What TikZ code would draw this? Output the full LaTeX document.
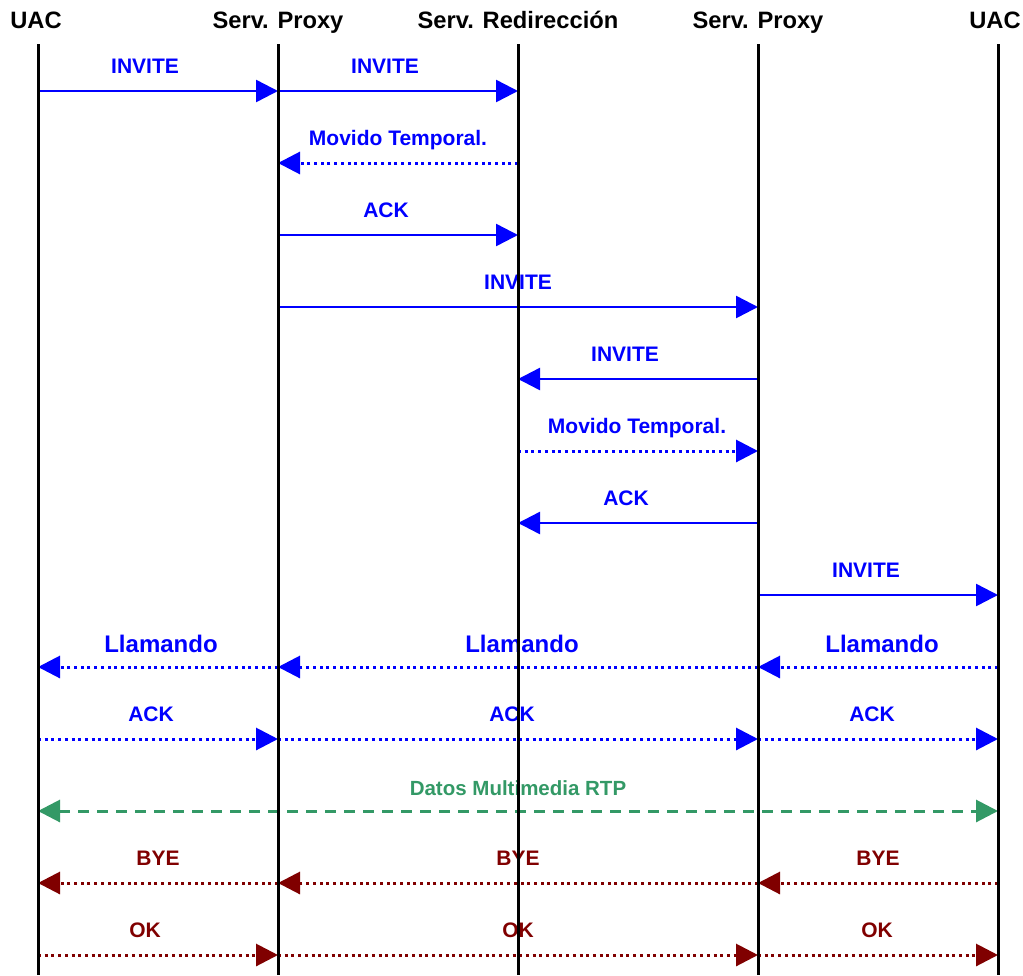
\documentclass[tikz,border=0pt]{standalone}
\usepackage{fontspec}
\setmainfont{Liberation Sans}
\usetikzlibrary{arrows.meta}
\definecolor{sipblue}{RGB}{0,0,255}
\definecolor{sipgreen}{RGB}{51,153,102}
\definecolor{sipred}{RGB}{128,0,0}
\tikzset{
  msg/.style={line width=2.5pt, -{Triangle[length=22pt,width=22pt]}},
  dotmsg/.style={msg, line width=3pt, dash pattern=on 3pt off 3.7pt},
  lbl/.style={font=\bfseries\fontsize{21}{25}\selectfont, anchor=base, inner sep=0pt},
  biglbl/.style={font=\bfseries\fontsize{24}{28}\selectfont, anchor=base, inner sep=0pt},
  hdr/.style={font=\bfseries\fontsize{23.7}{28}\selectfont, anchor=base, inner sep=0pt},
  lifeline/.style={line width=3pt, black},
}
\begin{document}
\begin{tikzpicture}[x=1pt,y=-1pt]
\useasboundingbox (0,0) rectangle (1023,975);
% headers
\node[hdr] (h1) at (36,28) {UAC};
\node[hdr] (h2) at (278,28) {Serv. Proxy};
\node[hdr] (h3) at (518,28) {Serv. Redirección};
\node[hdr] (h4) at (758,28) {Serv. Proxy};
\node[hdr] (h5) at (995,28) {UAC};
% coordinates
\foreach \i/\x in {1/38,2/278,3/518,4/758,5/998}{
  \coordinate (t\i) at (\x,44);
  \coordinate (b\i) at (\x,975);
  \foreach \r/\y in {1/91,2/163,3/235,4/307,5/379,6/451,7/523,8/595,9/667,10/739,11/811,12/883,13/955}{
    \coordinate (p\i r\r) at (\x,\y);
  }
}
% messages
\begin{scope}[sipblue]
\draw[msg] (p1r1) -- (p2r1);
\draw[msg] (p2r1) -- (p3r1);
\node[lbl] (l1a) at (145,73) {INVITE};
\node[lbl] (l1b) at (385,73) {INVITE};
\draw[dotmsg] (p3r2) -- (p2r2);
\node[lbl] (l2) at (398,145) {Movido Temporal.};
\draw[msg] (p2r3) -- (p3r3);
\node[lbl] (l3) at (386,217) {ACK};
\draw[msg] (p2r4) -- (p4r4);
\node[lbl] (l4) at (518,289) {INVITE};
\draw[msg] (p4r5) -- (p3r5);
\node[lbl] (l5) at (625,361) {INVITE};
\draw[dotmsg] (p3r6) -- (p4r6);
\node[lbl] (l6) at (637,433) {Movido Temporal.};
\draw[msg] (p4r7) -- (p3r7);
\node[lbl] (l7) at (626,505) {ACK};
\draw[msg] (p4r8) -- (p5r8);
\node[lbl] (l8) at (866,577) {INVITE};
\draw[dotmsg] (p5r9) -- (p4r9);
\draw[dotmsg] (p4r9) -- (p2r9);
\draw[dotmsg] (p2r9) -- (p1r9);
\node[biglbl] (l9a) at (161,652) {Llamando};
\node[biglbl] (l9b) at (522,652) {Llamando};
\node[biglbl] (l9c) at (882,652) {Llamando};
\draw[dotmsg] (p1r10) -- (p2r10);
\draw[dotmsg] (p2r10) -- (p4r10);
\draw[dotmsg] (p4r10) -- (p5r10);
\node[lbl] (l10a) at (151,721) {ACK};
\node[lbl] (l10b) at (512,721) {ACK};
\node[lbl] (l10c) at (872,721) {ACK};
\end{scope}
\begin{scope}[sipgreen]
\draw[line width=3pt, dash pattern=on 11pt off 8pt, {Triangle[length=22pt,width=22pt]}-{Triangle[length=22pt,width=22pt]}] (p1r11) -- (p5r11);
\node[lbl,font=\bfseries\fontsize{20.5}{24}\selectfont] (l11) at (518,795) {Datos Multimedia RTP};
\end{scope}
\begin{scope}[sipred]
\draw[dotmsg] (p5r12) -- (p4r12);
\draw[dotmsg] (p4r12) -- (p2r12);
\draw[dotmsg] (p2r12) -- (p1r12);
\node[lbl] (l12a) at (158,865) {BYE};
\node[lbl] (l12b) at (518,865) {BYE};
\node[lbl] (l12c) at (878,865) {BYE};
\draw[dotmsg] (p1r13) -- (p2r13);
\draw[dotmsg] (p2r13) -- (p4r13);
\draw[dotmsg] (p4r13) -- (p5r13);
\node[lbl] (l13a) at (145,937) {OK};
\node[lbl] (l13b) at (518,937) {OK};
\node[lbl] (l13c) at (877,937) {OK};
\end{scope}
% lifelines
\foreach \i in {1,...,5}{
  \draw[lifeline] (t\i) -- (b\i);
}
\end{tikzpicture}
\end{document}
